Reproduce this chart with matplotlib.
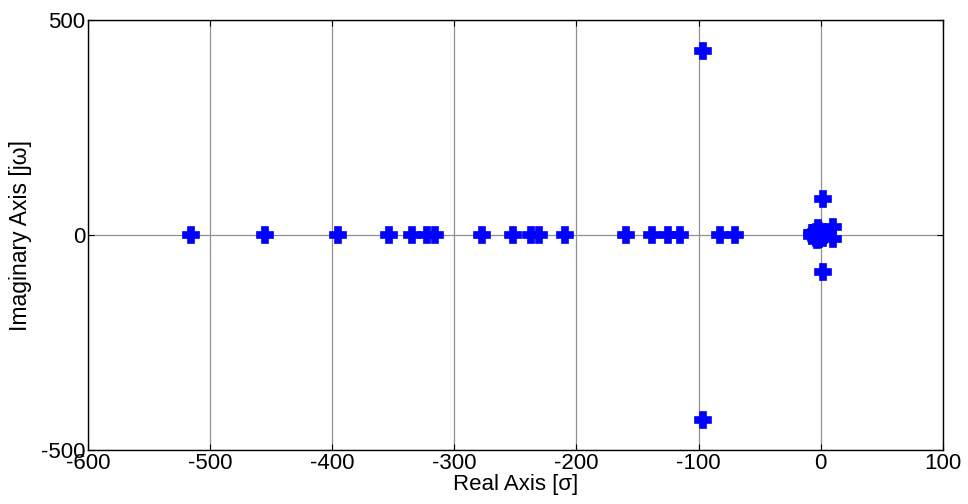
import matplotlib
matplotlib.use("Agg")
import matplotlib.pyplot as plt

plt.rcParams['font.family'] = ['Liberation Sans', 'DejaVu Sans']
plt.rcParams['axes.unicode_minus'] = False

# Poles (real, imaginary)
real_poles = [-515.8, -455.3, -395.0, -353.9, -334.8, -322.2, -316.0, -277.6,
              -251.9, -236.9, -231.0, -209.2, -159.5, -138.0, -124.7, -115.1,
              -82.4, -70.4]
real_imag = [0.0] * len(real_poles)

complex_re = [-96.0, -96.0, 2.0, 2.0]
complex_im = [429.0, -429.0, 85.0, -85.0]

cluster_re = [-5.0, -4.0, -4.0, -2.0, -2.0, 0.0, 1.0, -1.0, 3.0, 10.0, 10.0,
              -6.0, -7.0, -7.0, -3.0, -1.0, 2.0, 2.0]
cluster_im = [0.0, 8.0, -6.0, 16.0, -10.0, 3.0, -3.0, 10.0, 0.0, 20.0, -10.0,
              4.0, -2.0, 6.0, -12.0, -8.0, 8.0, -7.0]

xticks = [-600, -500, -400, -300, -200, -100, 0, 100]
yticks = [-500, 0, 500]

fig = plt.figure(figsize=(9.68, 5.04), dpi=100)
ax = fig.add_axes([0.0909, 0.107, 0.974 - 0.0909, 0.960 - 0.107])

re_all = real_poles + complex_re + cluster_re
im_all = real_imag + complex_im + cluster_im
ax.plot(re_all, im_all, linestyle='none', marker='P', markersize=11.5,
        color='#0000ff', markeredgecolor='#0000ff', markeredgewidth=1.2,
        zorder=3)

ax.set_xlim(-600, 100)
ax.set_ylim(-500, 500)
ax.set_xticks(xticks)
ax.set_yticks(yticks)
ax.grid(True, color='#909090', linewidth=0.9, linestyle='-')
ax.set_axisbelow(True)
ax.tick_params(direction='in', length=4, width=0.8, labelsize=16,
               top=True, right=True, pad=2)
for s in ax.spines.values():
    s.set_linewidth(1.0)
    s.set_color('black')

ax.set_xlabel('Real Axis [σ]', fontsize=16, labelpad=0)
ax.set_ylabel('Imaginary Axis [jω]', fontsize=16.5, labelpad=6)

fig.savefig('out.png', dpi=100)
